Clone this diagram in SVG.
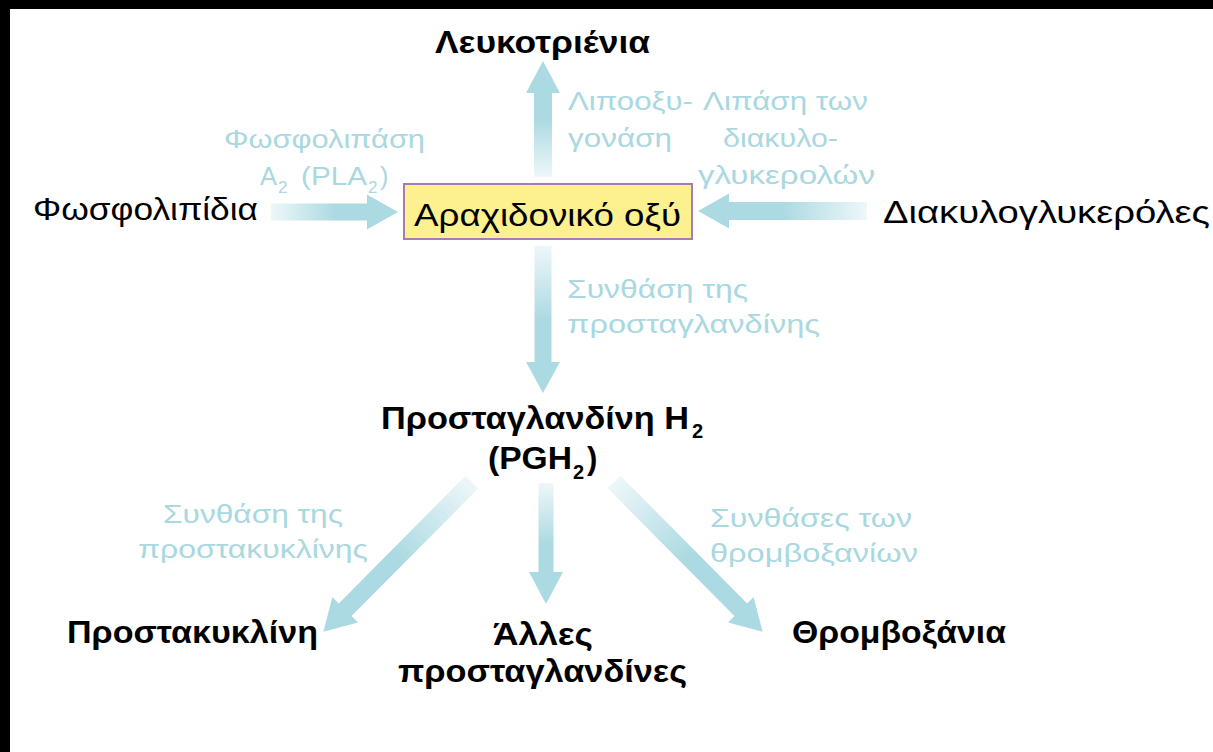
<svg xmlns="http://www.w3.org/2000/svg" width="1213" height="752" viewBox="0 0 1213 752">
<defs>
<linearGradient id="fade" x1="0" y1="0" x2="1" y2="0">
<stop offset="0" stop-color="#eef7f9"/>
<stop offset="0.5" stop-color="#acdae2"/>
<stop offset="1" stop-color="#acdae2"/>
</linearGradient>
<style>
text{font-family:"Liberation Sans",Arial,sans-serif}
.lbl{font-size:25px;fill:#a9d8e0}
.lsub{font-size:17px;fill:#a9d8e0}
.reg{font-size:31px;fill:#000}
.bold{font-size:31px;font-weight:bold;fill:#000}
.bsub{font-size:20px;font-weight:bold;fill:#000}
.arr{fill:url(#fade)}
</style>
</defs>
<rect x="0" y="0" width="1213" height="752" fill="#fff"/>
<rect x="0" y="0" width="1213" height="9" fill="#000"/>
<rect x="0" y="0" width="10" height="752" fill="#000"/>

<g id="connectors">
<path class="arr" transform="translate(271,212)" d="M0,-8.5 H96 V-17.5 L127,0 L96,17.5 V8.5 H0 Z"/>
<path class="arr" transform="translate(867,211) rotate(180)" d="M0,-9 H138 V-17.5 L169,0 L138,17.5 V9 H0 Z"/>
<path class="arr" transform="translate(543,177) rotate(-90)" d="M0,-9 H84 V-17 L116,0 L84,17 V9 H0 Z"/>
<path class="arr" transform="translate(543,246) rotate(90)" d="M0,-8.5 H116 V-17 L147,0 L116,17 V8.5 H0 Z"/>
<path class="arr" transform="translate(546,483) rotate(90)" d="M0,-7.5 H89 V-17 L121,0 L89,17 V7.5 H0 Z"/>
<path class="arr" transform="translate(472,482) rotate(134.8)" d="M0,-9 H180 V-18 L211,0 L180,18 V9 H0 Z"/>
<path class="arr" transform="translate(614,482) rotate(45.2)" d="M0,-9 H180 V-18 L211,0 L180,18 V9 H0 Z"/>
</g>

<g id="labels">
<text class="lbl" x="224" y="148" textLength="201" lengthAdjust="spacingAndGlyphs">Φωσφολιπάση</text>
<text class="lbl" x="260" y="185" textLength="17" lengthAdjust="spacingAndGlyphs">A</text>
<text class="lsub" x="278" y="193">2</text>
<text class="lbl" x="301" y="185" textLength="66" lengthAdjust="spacingAndGlyphs">(PLA</text>
<text class="lsub" x="368" y="193">2</text>
<text class="lbl" x="380" y="185">)</text>
<text class="lbl" x="568" y="110" textLength="125" lengthAdjust="spacingAndGlyphs">Λιποοξυ-</text>
<text class="lbl" x="568" y="147" textLength="104" lengthAdjust="spacingAndGlyphs">γονάση</text>
<text class="lbl" x="703" y="110" textLength="165" lengthAdjust="spacingAndGlyphs">Λιπάση των</text>
<text class="lbl" x="723" y="147" textLength="115" lengthAdjust="spacingAndGlyphs">διακυλο-</text>
<text class="lbl" x="698" y="184" textLength="177" lengthAdjust="spacingAndGlyphs">γλυκερολών</text>
<text class="lbl" x="567" y="298" textLength="181" lengthAdjust="spacingAndGlyphs">Συνθάση της</text>
<text class="lbl" x="567" y="333" textLength="253" lengthAdjust="spacingAndGlyphs">προσταγλανδίνης</text>
<text class="lbl" x="163" y="523" textLength="180" lengthAdjust="spacingAndGlyphs">Συνθάση της</text>
<text class="lbl" x="138" y="558" textLength="230" lengthAdjust="spacingAndGlyphs">προστακυκλίνης</text>
<text class="lbl" x="710" y="527" textLength="202" lengthAdjust="spacingAndGlyphs">Συνθάσες των</text>
<text class="lbl" x="710" y="562" textLength="208" lengthAdjust="spacingAndGlyphs">θρομβοξανίων</text>
</g>

<g id="node-leukotrienia"><text class="bold" x="435" y="53" textLength="215" lengthAdjust="spacingAndGlyphs">Λευκοτριένια</text></g>
<g id="node-phospholipids"><text class="reg" x="33" y="220" textLength="225" lengthAdjust="spacingAndGlyphs">Φωσφολιπίδια</text></g>
<g id="node-diacylglycerols"><text class="reg" x="883" y="223" textLength="327" lengthAdjust="spacingAndGlyphs">Διακυλογλυκερόλες</text></g>
<g id="node-arachidonic">
<rect x="404" y="184" width="288" height="55" fill="#fdf08f" stroke="#a77bb5" stroke-width="2"/>
<text class="reg" x="414" y="226" textLength="267" lengthAdjust="spacingAndGlyphs">Αραχιδονικό οξύ</text>
</g>
<g id="node-pgh2">
<text class="bold" x="381" y="429" textLength="308" lengthAdjust="spacingAndGlyphs">Προσταγλανδίνη H</text>
<text class="bsub" x="692" y="438">2</text>
<text class="bold" x="488" y="469" textLength="84" lengthAdjust="spacingAndGlyphs">(PGH</text>
<text class="bsub" x="573" y="479">2</text>
<text class="bold" x="587" y="469">)</text>
</g>
<g id="node-prostacyclin"><text class="bold" x="67" y="643" textLength="251" lengthAdjust="spacingAndGlyphs">Προστακυκλίνη</text></g>
<g id="node-other">
<text class="bold" x="493" y="645" textLength="100" lengthAdjust="spacingAndGlyphs">Άλλες</text>
<text class="bold" x="398" y="682" textLength="289" lengthAdjust="spacingAndGlyphs">προσταγλανδίνες</text>
</g>
<g id="node-thromboxanes"><text class="bold" x="792" y="643" textLength="214" lengthAdjust="spacingAndGlyphs">Θρομβοξάνια</text></g>
</svg>
